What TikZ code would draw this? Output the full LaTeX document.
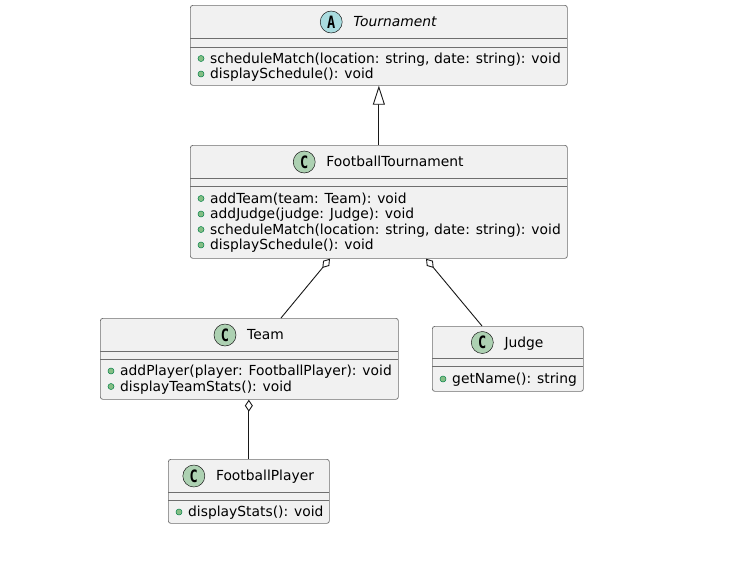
\documentclass[tikz,border=0pt]{standalone}
\usepackage{fontspec}
\setmainfont{DejaVu Sans}
\newfontfamily\spotfont{DejaVu Sans Mono}
\usetikzlibrary{arrows.meta,calc}
\definecolor{boxfill}{HTML}{F1F1F1}
\definecolor{boxline}{HTML}{6E6E6E}
\definecolor{connline}{HTML}{181818}
\definecolor{classspot}{HTML}{ADD1B2}
\definecolor{absspot}{HTML}{A9DCDF}
\definecolor{dotfill}{HTML}{84BE84}
\definecolor{dotline}{HTML}{038048}
\begin{document}
\begin{tikzpicture}[x=1pt,y=-1pt,
 font=\fontsize{13.85}{16}\selectfont,
 classbox/.style={draw=boxline, fill=boxfill, line width=0.7pt, rounded corners=2.5pt, inner sep=0pt, anchor=north west},
 sepline/.style={draw=boxline, line width=0.7pt},
 title/.style={anchor=base, inner sep=0pt},
 spot/.style={circle, draw=connline, line width=0.5pt, minimum size=22pt, inner sep=0pt, font=\spotfont\bfseries\fontsize{17}{17}\selectfont},
 meth/.style={anchor=base west, inner sep=0pt},
 pub/.style={circle, fill=dotfill, draw=dotline, line width=0.5pt, minimum size=6pt, inner sep=0pt},
 conn/.style={draw=connline, line width=0.9pt},
 agg/.style={conn, {Diamond[length=12pt,width=8pt,fill=white]}-},
 gen/.style={conn, -{Triangle[length=19pt,width=12pt,fill=white]}},
]
\fill[white] (0,0) rectangle (741,565);

% Tournament
\node[classbox, minimum width=377pt, minimum height=80pt] (tour) at (190,5) {};
\draw[sepline] (190,38) -- (567,38);
\draw[sepline] (190,47) -- (567,47);
\node[title, font=\fontsize{13.85}{16}\selectfont\itshape] (tourT) at (395,26.5) {Tournament};
\node[spot, fill=absspot] at ($(tourT.base west)+(-22,-4.5)$) {\scalebox{0.8}[1]{A}};
\node[pub] (tm1) at (201,58.5) {};
\node[meth] (tt1) at (210,63) {scheduleMatch(location: string, date: string): void};
\node[pub] (tm2) at (201,74) {};
\node[meth] (tt2) at (210,78.5) {displaySchedule(): void};

% FootballTournament
\node[classbox, minimum width=377pt, minimum height=113pt] (ft) at (190,145) {};
\draw[sepline] (190,178) -- (567,178);
\draw[sepline] (190,186) -- (567,186);
\node[title] (ftT) at (395,166.5) {FootballTournament};
\node[spot, fill=classspot] at ($(ftT.base west)+(-22,-4.5)$) {\scalebox{0.8}[1]{C}};
\node[pub] (fm1) at (201,198.5) {};
\node[meth] (ft1) at (210,203) {addTeam(team: Team): void};
\node[pub] (fm2) at (201,214) {};
\node[meth] (ft2) at (210,218.5) {addJudge(judge: Judge): void};
\node[pub] (fm3) at (201,229.5) {};
\node[meth] (ft3) at (210,234) {scheduleMatch(location: string, date: string): void};
\node[pub] (fm4) at (201,245) {};
\node[meth] (ft4) at (210,249.5) {displaySchedule(): void};

% Team
\node[classbox, minimum width=298pt, minimum height=81pt] (team) at (100,318) {};
\draw[sepline] (100,351) -- (398,351);
\draw[sepline] (100,359) -- (398,359);
\node[title] (teamT) at (265.5,339.5) {Team};
\node[spot, fill=classspot] at ($(teamT.base west)+(-22,-4.5)$) {\scalebox{0.8}[1]{C}};
\node[pub] (am1) at (111,371) {};
\node[meth] (at1) at (120,375.5) {addPlayer(player: FootballPlayer): void};
\node[pub] (am2) at (111,386.5) {};
\node[meth] (at2) at (120,391) {displayTeamStats(): void};

% Judge
\node[classbox, minimum width=151pt, minimum height=65pt] (judge) at (432,326) {};
\draw[sepline] (432,358) -- (583,358);
\draw[sepline] (432,366) -- (583,366);
\node[title] (judgeT) at (524,347) {Judge};
\node[spot, fill=classspot] at ($(judgeT.base west)+(-22,-4.5)$) {\scalebox{0.8}[1]{C}};
\node[pub] (jm1) at (443,379) {};
\node[meth] (jt1) at (452,383.5) {getName(): string};

% FootballPlayer
\node[classbox, minimum width=161pt, minimum height=64pt] (fp) at (168,459) {};
\draw[sepline] (168,492) -- (329,492);
\draw[sepline] (168,500) -- (329,500);
\node[title] (fpT) at (265,480.5) {FootballPlayer};
\node[spot, fill=classspot] at ($(fpT.base west)+(-22,-4.5)$) {\scalebox{0.8}[1]{C}};
\node[pub] (pm1) at (179,512) {};
\node[meth] (pt1) at (188,516.5) {displayStats(): void};

% connectors
\draw[gen] (ft.north) -- (tour.south);
\draw[agg] ($(ft.south west)+(140,0)$) -- ($(team.north west)+(181,0)$);
\draw[agg] ($(ft.south west)+(236,0)$) -- ($(judge.north west)+(50,0)$);
\draw[agg] (fp.north |- team.south) -- (fp.north);
\end{tikzpicture}
\end{document}
